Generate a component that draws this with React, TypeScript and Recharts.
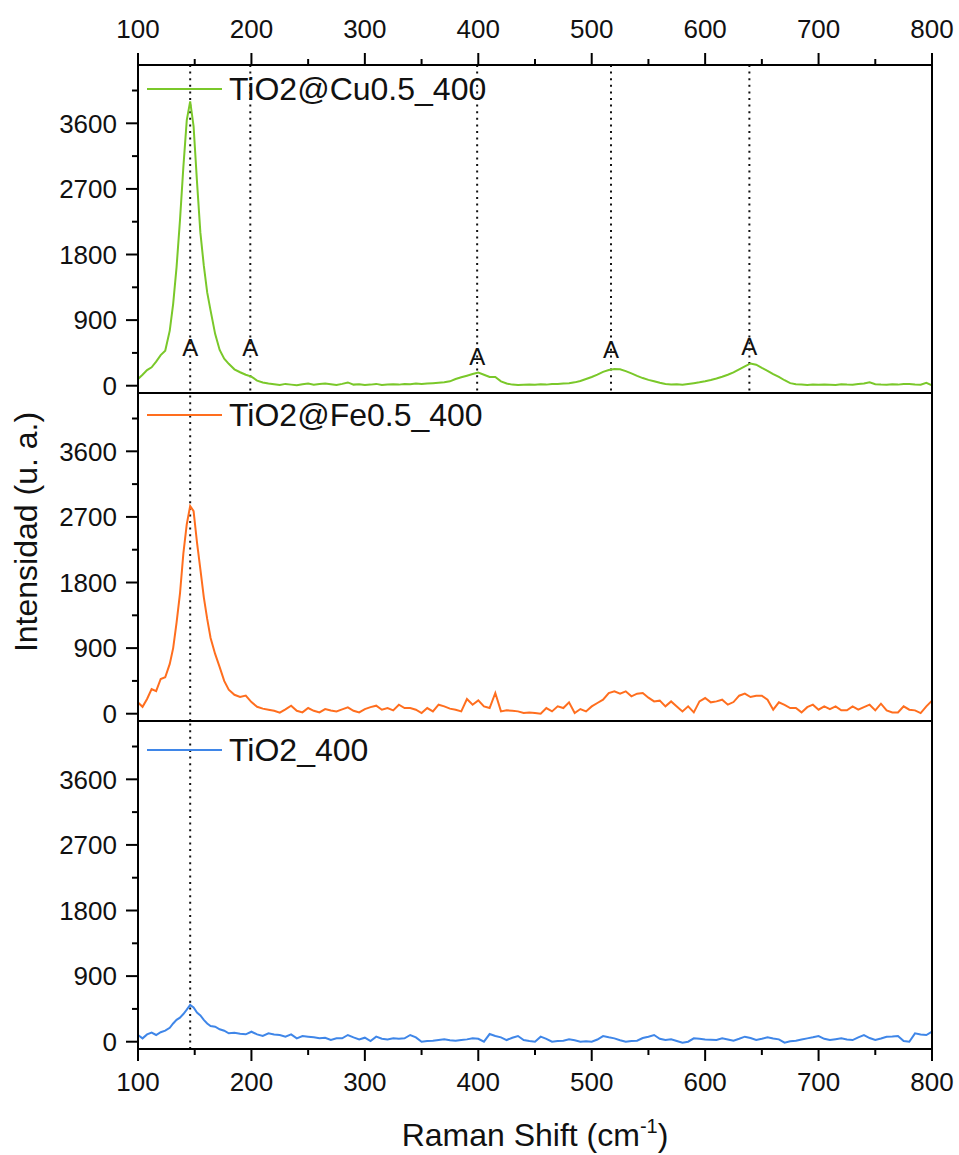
import { LineChart, Line, XAxis, YAxis, ReferenceLine, ReferenceDot, Legend } from 'recharts';

const FONT = '"Liberation Sans", Arial, sans-serif';

const shift = [
  100, 104, 108, 112, 116, 120, 124, 128, 131, 134,
  137, 140, 143, 146, 149, 152, 155, 158, 161, 164,
  168, 172, 176, 180, 185, 190, 195, 200, 205, 210,
  215, 220, 225, 230, 235, 240, 245, 250, 255, 260,
  265, 270, 275, 280, 285, 290, 295, 300, 305, 310,
  315, 320, 325, 330, 335, 340, 345, 350, 355, 360,
  365, 370, 375, 380, 385, 390, 395, 400, 405, 410,
  415, 420, 425, 430, 435, 440, 445, 450, 455, 460,
  465, 470, 475, 480, 485, 490, 495, 500, 505, 510,
  515, 520, 525, 530, 535, 540, 545, 550, 555, 560,
  565, 570, 575, 580, 585, 590, 595, 600, 605, 610,
  615, 620, 625, 630, 635, 640, 645, 650, 655, 660,
  665, 670, 675, 680, 685, 690, 695, 700, 705, 710,
  715, 720, 725, 730, 735, 740, 745, 750, 755, 760,
  765, 770, 775, 780, 785, 790, 795, 800,
];

const cu = [
  92, 150, 215, 252, 330, 420, 481, 756, 1123, 1627,
  2269, 3002, 3644, 3900, 3560, 2800, 2100, 1650, 1280, 1030,
  711, 490, 370, 300, 225, 185, 150, 125, 70, 45,
  30, 20, 10, 25, 15, 5, 20, 30, 15, 25,
  30, 20, 10, 25, 45, 15, 20, 10, 15, 25,
  10, 15, 20, 15, 25, 20, 30, 23, 30, 35,
  40, 46, 60, 92, 115, 137, 160, 180, 151, 120,
  120, 60, 30, 15, 9, 12, 15, 14, 20, 15,
  25, 23, 30, 35, 46, 65, 92, 120, 151, 190,
  215, 229, 226, 200, 169, 135, 105, 80, 60, 40,
  23, 15, 20, 14, 25, 35, 46, 60, 78, 100,
  124, 150, 183, 225, 265, 305, 289, 245, 205, 160,
  120, 75, 35, 20, 15, 9, 15, 12, 18, 14,
  10, 20, 15, 14, 25, 30, 46, 20, 15, 14,
  20, 15, 25, 23, 15, 14, 40, 5,
];

const fe = [
  155, 95, 202, 339, 310, 477, 500, 683, 900, 1250,
  1646, 2200, 2600, 2850, 2780, 2350, 1980, 1600, 1300, 1040,
  820, 640, 450, 330, 260, 230, 248, 160, 95, 70,
  55, 41, 15, 60, 110, 40, 18, 78, 40, 18,
  64, 45, 32, 60, 87, 40, 18, 64, 90, 110,
  55, 78, 46, 124, 78, 78, 55, 9, 78, 32,
  124, 101, 70, 55, 32, 202, 124, 183, 101, 78,
  284, 32, 46, 40, 32, 9, 18, 10, 0, 78,
  32, 101, 78, 156, 9, 64, 32, 100, 147, 192,
  284, 307, 275, 307, 238, 275, 284, 220, 169, 179,
  101, 169, 100, 32, 101, 18, 169, 215, 156, 169,
  192, 124, 160, 247, 275, 229, 247, 247, 192, 55,
  156, 120, 78, 78, 18, 90, 124, 55, 101, 64,
  101, 46, 46, 101, 55, 90, 124, 46, 137, 46,
  18, 18, 101, 55, 46, 9, 101, 180,
];

const tio2 = [
  92, 46, 100, 124, 92, 130, 151, 190, 250, 300,
  330, 380, 440, 504, 470, 400, 360, 300, 250, 216,
  206, 170, 151, 115, 124, 110, 101, 137, 101, 78,
  115, 100, 92, 69, 101, 46, 78, 69, 60, 46,
  55, 23, 46, 46, 92, 60, 32, 55, 9, 69,
  41, 32, 46, 40, 46, 92, 60, 0, 10, 14,
  25, 32, 20, 14, 25, 32, 46, 40, 0, 105,
  78, 60, 23, 55, 78, 23, 10, 0, 69, 40,
  0, 10, 14, 32, 20, 0, 5, 0, 30, 78,
  60, 46, 20, 0, 10, 14, 50, 69, 92, 40,
  23, 32, 10, -14, 0, 46, 40, 32, 28, 23,
  46, 30, 14, 40, 69, 50, 23, 40, 60, 45,
  32, -14, 5, 14, 30, 46, 60, 78, 40, 23,
  35, 46, 30, 23, 60, 92, 50, 23, 45, 69,
  70, 78, 10, 0, 115, 100, 92, 137,
];

const xTicks = [100, 150, 200, 250, 300, 350, 400, 450, 500, 550, 600, 650, 700, 750, 800];
const yTicks = [0, 450, 900, 1350, 1800, 2250, 2700, 3150, 3600, 4050];
const anatasePos = [146, 199, 399, 517, 639];
const anataseLabelY = [531, 531, 407, 503, 545];

const data = shift.map((x, i) => ({ x, cu: cu[i], fe: fe[i], tio2: tio2[i] }));

const W = 959;
const Y_DOMAIN = [-100, 4400];
const axisLine = { stroke: '#000', strokeWidth: 2 };
const guide = { stroke: '#111', strokeWidth: 2, strokeDasharray: '2 4.6' };

// ticks are drawn by hand so that majors and minors can share one axis
const leftTick = (p: any) => {
  const major = p.payload.value % 900 === 0;
  const len = major ? 12 : 6;
  return (
    <g>
      <line x1={p.x} x2={p.x - len} y1={p.y} y2={p.y} stroke="#000" strokeWidth={2} />
      {major && (
        <text x={p.x - 21} y={p.y} dy="0.36em" textAnchor="end" fontSize={26} fontFamily={FONT} fill="#111">
          {p.payload.value}
        </text>
      )}
    </g>
  );
};

const rightTick = (p: any) => {
  const len = p.payload.value % 900 === 0 ? 12 : 6;
  return <line x1={p.x} x2={p.x - len} y1={p.y} y2={p.y} stroke="#000" strokeWidth={2} />;
};

const topTick = (p: any) => {
  const major = p.payload.value % 100 === 0;
  const len = major ? 12 : 6;
  return (
    <g>
      <line x1={p.x} x2={p.x} y1={p.y} y2={p.y - len} stroke="#000" strokeWidth={2} />
      {major && (
        <text x={p.x} y={p.y - 27} textAnchor="middle" fontSize={26} fontFamily={FONT} fill="#111">
          {p.payload.value}
        </text>
      )}
    </g>
  );
};

const bottomTick = (p: any) => {
  const major = p.payload.value % 100 === 0;
  const len = major ? 12 : 6;
  return (
    <g>
      <line x1={p.x} x2={p.x} y1={p.y} y2={p.y + len} stroke="#000" strokeWidth={2} />
      {major && (
        <text x={p.x} y={p.y + 42} textAnchor="middle" fontSize={26} fontFamily={FONT} fill="#111">
          {p.payload.value}
        </text>
      )}
    </g>
  );
};

function legendFor(name: string, color: string) {
  return () => (
    <div style={{ display: 'flex', alignItems: 'center', height: 40, fontFamily: FONT }}>
      <svg width={75} height={4}>
        <line x1={0} x2={75} y1={2} y2={2} stroke={color} strokeWidth={2} />
      </svg>
      <span style={{ marginLeft: 7, fontSize: 32, color: '#111', whiteSpace: 'nowrap' }}>{name}</span>
    </div>
  );
}

function yAxes() {
  return [
    <YAxis
      key="l"
      yAxisId="left"
      type="number"
      domain={Y_DOMAIN}
      ticks={yTicks}
      interval={0}
      width={138}
      tickSize={0}
      tickMargin={0}
      tickLine={false}
      axisLine={axisLine}
      tick={leftTick}
    />,
    <YAxis
      key="r"
      yAxisId="right"
      orientation="right"
      type="number"
      domain={Y_DOMAIN}
      ticks={yTicks}
      interval={0}
      width={27}
      tickSize={0}
      tickMargin={0}
      tickLine={false}
      axisLine={axisLine}
      tick={rightTick}
    />,
  ];
}

export default function App() {
  return (
    <div style={{ position: 'absolute', left: 0, top: 0, width: W, height: 1155, background: '#fff', fontFamily: FONT }}>
      {/* top panel: Cu */}
      <div style={{ position: 'absolute', left: 0, top: 0 }}>
        <LineChart width={W} height={400} data={data} margin={{ top: 0, right: 0, bottom: 7, left: 0 }}>
          <XAxis
            dataKey="x"
            type="number"
            orientation="top"
            domain={[100, 800]}
            ticks={xTicks}
            interval={0}
            height={65}
            tickSize={0}
            tickMargin={0}
            tickLine={false}
            axisLine={axisLine}
            tick={topTick}
          />
          {yAxes()}
          <ReferenceLine yAxisId="left" y={-100} stroke="#000" strokeWidth={2} />
          {anatasePos.map((v) => (
            <ReferenceLine key={v} yAxisId="left" x={v} {...guide} />
          ))}
          {anatasePos.map((v, i) => (
            <ReferenceDot
              key={'a' + v}
              yAxisId="left"
              x={v}
              y={anataseLabelY[i]}
              r={0}
              shape={(p: any) => (
                <text x={p.cx} y={p.cy} dy="0.36em" textAnchor="middle" fontSize={24} fontFamily={FONT} fill="#111">
                  A
                </text>
              )}
            />
          ))}
          <Line yAxisId="left" type="linear" dataKey="cu" stroke="#7AC82A" strokeWidth={2} dot={false} isAnimationActive={false} />
          <Legend
            layout="horizontal"
            verticalAlign="middle"
            align="center"
            wrapperStyle={{ left: 147, top: 69, width: 500, height: 40 }}
            content={legendFor('TiO2@Cu0.5_400', '#7AC82A')}
          />
        </LineChart>
      </div>

      {/* middle panel: Fe, also carries the shared y title */}
      <div style={{ position: 'absolute', left: 0, top: 386 }}>
        <LineChart width={W} height={342} data={data} margin={{ top: 7, right: 0, bottom: 7, left: 0 }}>
          <XAxis dataKey="x" type="number" domain={[100, 800]} hide />
          {yAxes()}
          <ReferenceLine yAxisId="left" y={4400} stroke="#000" strokeWidth={2} />
          <ReferenceLine yAxisId="left" y={-100} stroke="#000" strokeWidth={2} />
          <ReferenceLine yAxisId="left" x={146} {...guide} />
          <Line yAxisId="left" type="linear" dataKey="fe" stroke="#FF6E1E" strokeWidth={2} dot={false} isAnimationActive={false} />
          <ReferenceDot
            yAxisId="left"
            x={100}
            y={4400}
            r={0}
            shape={(p: any) => (
              <text
                transform={`translate(37, ${p.cy + 139}) rotate(-90)`}
                textAnchor="middle"
                fontSize={32}
                fontFamily={FONT}
                fill="#111"
              >
                Intensidad (u. a.)
              </text>
            )}
          />
          <Legend
            layout="horizontal"
            verticalAlign="middle"
            align="center"
            wrapperStyle={{ left: 147, top: 9, width: 500, height: 40 }}
            content={legendFor('TiO2@Fe0.5_400', '#FF6E1E')}
          />
        </LineChart>
      </div>

      {/* bottom panel: TiO2 */}
      <div style={{ position: 'absolute', left: 0, top: 714 }}>
        <LineChart width={W} height={441} data={data} margin={{ top: 7, right: 0, bottom: 0, left: 0 }}>
          <XAxis
            dataKey="x"
            type="number"
            orientation="bottom"
            domain={[100, 800]}
            ticks={xTicks}
            interval={0}
            height={106}
            tickSize={0}
            tickMargin={0}
            tickLine={false}
            axisLine={axisLine}
            tick={bottomTick}
            label={{
              content: (p: any) => {
                const vb = p.viewBox || { x: 138, y: 335, width: 794 };
                return (
                  <text x={vb.x + vb.width / 2} y={vb.y + 97} textAnchor="middle" fontSize={32} fontFamily={FONT} fill="#111">
                    Raman Shift (cm
                    <tspan dy={-13} fontSize={20}>-1</tspan>
                    <tspan dy={13}>)</tspan>
                  </text>
                );
              },
            }}
          />
          {yAxes()}
          <ReferenceLine yAxisId="left" y={4400} stroke="#000" strokeWidth={2} />
          <ReferenceLine yAxisId="left" x={146} {...guide} />
          <Line yAxisId="left" type="linear" dataKey="tio2" stroke="#3F86E8" strokeWidth={2} dot={false} isAnimationActive={false} />
          <Legend
            layout="horizontal"
            verticalAlign="middle"
            align="center"
            wrapperStyle={{ left: 147, top: 16, width: 500, height: 40 }}
            content={legendFor('TiO2_400', '#3F86E8')}
          />
        </LineChart>
      </div>
    </div>
  );
}
